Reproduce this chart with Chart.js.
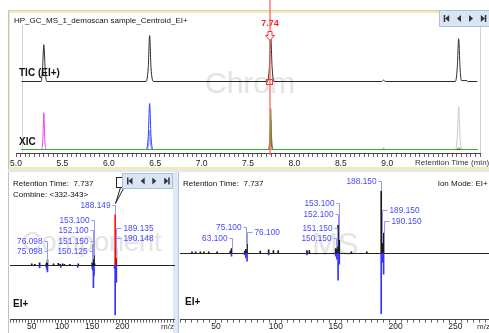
<!DOCTYPE html>
<html>
<head>
<meta charset="utf-8">
<script src="https://cdn.jsdelivr.net/npm/chart.js@4.4.1/dist/chart.umd.min.js"></script>
<style>
  html, body { margin: 0; padding: 0; background: #fff; }
  body { width: 489px; height: 333px; position: relative; overflow: hidden;
         font-family: "Liberation Sans", Arial, sans-serif; color: #111; }
  .abs { position: absolute; }
  .ui { position: absolute; font-size: 8px; line-height: 10px; white-space: pre; color: #111; }
  .bold { position: absolute; font-weight: bold; font-size: 10px; line-height: 12px; white-space: pre; color: #111; }
  .mark { position: absolute; color: #e4e4e4; white-space: nowrap; }
  canvas { position: absolute; }
  .nav { position: absolute; background: #d9e5f5; border: 1px solid #aebfd8; box-sizing: border-box; }
</style>
</head>
<body>
<!-- panel frames -->
<div class="abs" style="left:8px;top:10px;width:481px;height:160px;border-top:1px solid #c5d3e6;border-left:1px solid #b5c6dc;box-sizing:border-box"></div>
<div class="abs" style="left:9px;top:11px;width:480px;height:2px;background:#f8ed9f"></div>
<div class="abs" style="left:9px;top:11px;width:1px;height:158px;background:#f6eba6"></div>
<div class="abs" style="left:9px;top:167px;width:480px;height:2px;background:#f8ed9f"></div>
<div class="abs" style="left:8px;top:169px;width:481px;height:3px;background:#dfe8f4"></div>
<div class="abs" style="left:8px;top:172px;width:1px;height:161px;background:#b5c6dc"></div>
<div class="abs" style="left:173px;top:172px;width:5px;height:161px;background:#dfe8f4;border-right:1px solid #b5c6dc"></div>

<!-- watermarks -->
<div class="mark" style="left:205px;top:67.6px;font-size:30px;line-height:30px">Chrom</div>
<div class="mark" style="left:22px;top:229.4px;font-size:27px;line-height:27px">Component</div>
<div class="mark" style="left:312px;top:228.8px;font-size:31px;line-height:31px">MS</div>

<canvas id="chrom" width="489" height="170" style="left:0;top:0"></canvas>
<canvas id="specLeft" width="167" height="161" style="left:8px;top:172px"></canvas>
<canvas id="specRight" width="310" height="161" style="left:179px;top:172px"></canvas>

<!-- texts -->
<div class="ui" style="left:14px;top:15.7px">HP_GC_MS_1_demoscan sample_Centroid_EI+</div>
<div class="bold" style="left:19px;top:67.3px">TIC (EI+)</div>
<div class="bold" style="left:19px;top:135.7px">XIC</div>
<div class="ui" style="left:415px;top:158.3px;color:#333">Retention Time (min)</div>

<div class="ui" style="left:13px;top:179px">Retention Time:  7.737</div>
<div class="ui" style="left:13px;top:190px">Combine: &lt;332-343&gt;</div>
<div class="bold" style="left:13px;top:298px">EI+</div>
<div class="ui" style="left:161px;top:322px;color:#333">m/z</div>

<div class="ui" style="left:183px;top:178.7px">Retention Time:  7.737</div>
<div class="ui" style="left:437.7px;top:179px">Ion Mode: EI+</div>
<div class="bold" style="left:185px;top:296.3px">EI+</div>
<div class="ui" style="left:477px;top:322px;color:#333">m/z</div>

<script>
// ---------- chromatogram (retention time, min / intensity, % of largest peak) ----------
const rtTickLabels = ['5.0', '5.5', '6.0', '6.5', '7.0', '7.5', '8.0', '8.5', '9.0'];
const cursorTime = 7.74;
const scanStart = 5.06;
const scanEnd = 10.0;

const ticTime      = [5.06, 5.27, 5.285, 5.30, 5.315, 5.33, 6.40, 6.425, 6.44, 6.455, 6.48, 7.71, 7.73, 7.745, 7.76, 7.78, 8.94, 8.96, 8.98, 9.735, 9.755, 9.77, 9.785, 9.80, 9.86, 9.87, 9.97];
const ticIntensity = [0,    0,    25,    80,   25,    0,    0,    30,    100,  30,    0,    0,    30,   98,    30,   0,    0,    3,    0,    0,     30,    93,   30,    2,    2,    0,    0];

const xicGreenTime  = [5.06, 7.715, 7.735, 7.745, 7.755, 7.775, 9.745, 9.77, 9.795, 9.97];
const xicGreenInt   = [0,    0,     25,    89,    25,    0,     0,     4,    0,     0];
const xicBrownTime  = [5.06, 7.72, 7.737, 7.745, 7.753, 7.77, 9.97];
const xicBrownInt   = [0,    0,    18,    64,    18,    0,    0];
const xicOrangeTime = [5.06, 7.725, 7.739, 7.745, 7.751, 7.765, 8.94, 8.96, 8.98, 9.97];
const xicOrangeInt  = [0,    0,     10,    35,    10,    0,     0,    3,    0,    0];
const xicMagentaTime = [5.06, 5.275, 5.29, 5.30, 5.31, 5.325, 9.97];
const xicMagentaInt  = [0,    0,     22,   80,   22,   0,     0];
const xicBlueTime   = [5.06, 6.405, 6.425, 6.44, 6.455, 6.475, 9.97];
const xicBlueInt    = [0,    0,     28,    100,  28,    0,     0];
const xicVioletTime = [5.06, 6.415, 6.43, 6.44, 6.45, 6.465, 9.97];
const xicVioletInt  = [0,    0,     12,   41,   12,   0,     0];
const xicGrayTime   = [5.06, 9.735, 9.755, 9.77, 9.785, 9.805, 9.97];
const xicGrayInt    = [0,    0,     26,    93,   26,    0,     0];

// ---------- spectra (m/z / relative abundance, %) ----------
const mzTickLabelsLeft  = ['50', '100', '150', '200'];
const mzTickLabelsRight = ['50', '100', '150', '200', '250'];

// combined spectrum, left panel (sample above the axis, library below)
const combinedMz        = [50, 55, 63, 74, 75, 76, 86, 94, 97, 101, 104, 113, 127, 150, 151, 152, 153, 154, 188, 189, 190];
const combinedIntensity = [3,  2,  5,  3,  5,  11, 3,  4,  2,  3,   2,   2,   3,   5,   12,  41,  20,  3,   100, 14,  33];
const libraryMz         = [63, 74, 75, 76, 98, 126, 150, 151, 152, 153, 187, 188, 189, 190];
const libraryIntensity  = [5,  4,  8,  13, 4,  4,   6,   10,  44,  20,  6,   98,  16,  34];
const componentMz       = [188, 189, 190];
const combinedLabels    = ['75.098', '76.098', '150.125', '151.150', '152.100', '153.100', '188.149', '189.135', '190.148'];

// scan spectrum, right panel
const scanMz            = [30, 33, 37, 40, 44, 51, 62, 63, 74, 75, 76, 87, 94, 98, 102, 126, 128, 150, 151, 152, 153, 163, 176, 188, 189, 190];
const scanIntensity     = [2,  2,  2,  2,  2,  2,  3,  7,  3,  6,  15, 3,  5,  4,  4,   4,   4,   7,   10,  45,  21,  2,   2,   100, 16,  32];
const scanLibraryMz     = [63, 74, 75, 76, 94, 126, 150, 151, 152, 153, 188, 189, 190];
const scanLibraryInt    = [5,  3,  8,  13, 3,  3,   5,   10,  44,  18,  98,  15,  34];
const scanLabels        = ['63.100', '75.100', '76.100', '150.150', '151.150', '152.100', '153.100', '188.150', '189.150', '190.150'];

// label placement (px above the zero line, side of the peak)
const combinedLabelRow  = [14, 24.6, 14, 24.6, 35, 45.6, 60, 37.3, 27];
const combinedLabelSide = ['l', 'l', 'l', 'l', 'l', 'l', 'l', 'r', 'r'];
const scanLabelRow      = [14.7, 25.7, 20.7, 14.7, 25, 39, 50, 72.3, 42.7, 32.3];
const scanLabelSide     = ['l', 'l', 'r', 'l', 'l', 'l', 'l', 'l', 'r', 'r'];

const FONT = '"Liberation Sans", Arial, sans-serif';
Chart.defaults.font.family = FONT;

const pts = (xs, ys, sign = 1) => xs.map((v, i) => ({ x: v, y: sign * ys[i] }));

function xicSet(label, xs, ys, color) {
  return { label, data: pts(xs, ys), yAxisID: 'yXic', borderColor: color, borderWidth: 1,
           pointRadius: 0, cubicInterpolationMode: 'monotone' };
}

const chromDecor = {
  id: 'chromDecor',
  beforeDatasetsDraw(chart) {
    const { ctx, chartArea: a, scales: { x } } = chart;
    ctx.save();
    ctx.strokeStyle = '#d2d2d2';
    ctx.lineWidth = 1;
    [scanStart, scanEnd].forEach(t => {
      const px = Math.round(x.getPixelForValue(t)) + 0.5;
      ctx.beginPath(); ctx.moveTo(px, a.top - 3); ctx.lineTo(px, a.bottom); ctx.stroke();
    });
    ctx.restore();
  },
  afterDatasetsDraw(chart) {
    const { ctx, chartArea: a, scales: { x, yTic } } = chart;
    const cx = Math.round(x.getPixelForValue(cursorTime));
    ctx.save();
    ctx.strokeStyle = 'rgba(255, 100, 100, 0.65)';
    ctx.lineWidth = 2;
    ctx.beginPath(); ctx.moveTo(cx, 0); ctx.lineTo(cx, a.bottom + 2); ctx.stroke();

    ctx.lineWidth = 1;
    ctx.strokeStyle = '#ff3030';
    ctx.fillStyle = '#fff';
    ctx.beginPath();
    ctx.moveTo(cx - 2, 31.5); ctx.lineTo(cx + 2, 31.5); ctx.lineTo(cx + 2, 35.5);
    ctx.lineTo(cx + 4.5, 35.5); ctx.lineTo(cx, 40.5); ctx.lineTo(cx - 4.5, 35.5);
    ctx.lineTo(cx - 2, 35.5); ctx.closePath();
    ctx.fill(); ctx.stroke();

    const by = Math.round(yTic.getPixelForValue(0));
    ctx.strokeRect(cx - 3.5, by - 2.5, 6, 5);

    ctx.fillStyle = '#ff2424';
    ctx.font = 'bold 9px ' + FONT;
    ctx.textAlign = 'center';
    ctx.textBaseline = 'middle';
    ctx.fillText(cursorTime.toFixed(2), cx, 23.5);
    ctx.restore();
  }
};

new Chart(document.getElementById('chrom'), {
  type: 'line',
  data: {
    datasets: [
      xicSet('XIC green', xicGreenTime, xicGreenInt, '#2fae2f'),
      xicSet('XIC brown', xicBrownTime, xicBrownInt, '#8e3a1c'),
      xicSet('XIC orange', xicOrangeTime, xicOrangeInt, '#ff8c1a'),
      xicSet('XIC magenta', xicMagentaTime, xicMagentaInt, '#f03cf0'),
      xicSet('XIC blue', xicBlueTime, xicBlueInt, '#2f3cff'),
      xicSet('XIC violet', xicVioletTime, xicVioletInt, '#8a8aff'),
      xicSet('XIC gray', xicGrayTime, xicGrayInt, '#c8c8c8'),
      { label: 'TIC', data: pts(ticTime, ticIntensity), yAxisID: 'yTic', borderColor: '#2a2a2a',
        borderWidth: 1, pointRadius: 0, cubicInterpolationMode: 'monotone' }
    ]
  },
  options: {
    responsive: false,
    animation: false,
    events: [],
    layout: { padding: { left: 16, right: 9, top: 28, bottom: 0.5 } },
    plugins: { legend: { display: false }, tooltip: { enabled: false } },
    scales: {
      x: {
        type: 'linear', min: 5, max: 10,
        grid: { drawOnChartArea: false, tickLength: 4, color: '#666' },
        border: { color: '#444' },
        ticks: {
          stepSize: 0.05, autoSkip: false, maxRotation: 0, minRotation: 0, includeBounds: false,
          padding: 2, color: '#222', font: { size: 8.5, lineHeight: 1 },
          callback: v => {
            const s = v.toFixed(1);
            return (Math.abs(v * 2 - Math.round(v * 2)) < 1e-6 && rtTickLabels.includes(s)) ? s : '';
          }
        }
      },
      yTic: { display: false, min: -155.4, max: 116.3 },
      yXic: { display: false, min: -7.6, max: 264.1 }
    }
  },
  plugins: [chromDecor]
});

function spectrumDecor(id, labels, rows, sides, peakMz, peakInt, callout) {
  return {
    id,
    beforeDatasetsDraw(chart) {
      const { ctx, chartArea: a, scales: { y } } = chart;
      const y0 = Math.round(y.getPixelForValue(0)) + 0.5;
      ctx.save();
      ctx.strokeStyle = '#222';
      ctx.lineWidth = 1;
      ctx.beginPath(); ctx.moveTo(a.left, y0); ctx.lineTo(a.right, y0); ctx.stroke();
      ctx.restore();
    },
    afterDatasetsDraw(chart) {
      const { ctx, scales: { x, y } } = chart;
      const zero = y.getPixelForValue(0);
      ctx.save();
      ctx.font = '8.3px ' + FONT;
      ctx.textBaseline = 'middle';
      ctx.lineWidth = 1;
      labels.forEach((text, i) => {
        const mz = Math.round(parseFloat(text));
        const bx = Math.round(x.getPixelForValue(mz)) + 0.5;
        const top = y.getPixelForValue(peakInt[peakMz.indexOf(mz)]);
        const ty = Math.round(zero - rows[i]) + 0.5;
        ctx.fillStyle = '#4848ff';
        ctx.strokeStyle = '#9898f0';
        ctx.beginPath();
        if (sides[i] === 'l') {
          ctx.textAlign = 'right';
          ctx.fillText(text, bx - 5, ty);
          ctx.moveTo(bx - 3, ty);
        } else {
          ctx.textAlign = 'left';
          ctx.fillText(text, bx + 7, ty);
          ctx.moveTo(bx + 5, ty);
        }
        ctx.lineTo(bx, ty);
        if (top > ty) ctx.lineTo(bx, top);
        ctx.stroke();
        if (callout && mz === callout) {
          ctx.fillStyle = '#fff';
          ctx.strokeStyle = '#222';
          ctx.fillRect(bx + 1, ty - 28, 16, 10);
          ctx.strokeRect(bx + 1, ty - 28, 16, 10);
          ctx.beginPath();
          ctx.moveTo(bx + 5, ty - 18); ctx.lineTo(bx, ty - 2); ctx.lineTo(bx + 8.5, ty - 18);
          ctx.stroke();
        }
      });
      ctx.restore();
    }
  };
}

function spectrumChart(canvasId, opts) {
  const tickCb = v => {
    const s = String(Math.round(v));
    return (Math.abs(v - Math.round(v)) < 1e-6 && opts.tickLabels.includes(s)) ? s : '';
  };
  return new Chart(document.getElementById(canvasId), {
    type: 'bar',
    data: {
      datasets: [
        { label: 'sample', data: pts(opts.mz, opts.intensity), stack: 'spec', barThickness: 1,
          backgroundColor: opts.color },
        { label: 'library', data: pts(opts.libMz, opts.libInt, -1), stack: 'spec', barThickness: 1,
          backgroundColor: '#3434ff' }
      ]
    },
    options: {
      responsive: false,
      animation: false,
      events: [],
      layout: { padding: opts.padding },
      plugins: { legend: { display: false }, tooltip: { enabled: false } },
      scales: {
        x: {
          type: 'linear', min: opts.min, max: opts.max, offset: false,
          grid: { offset: false, drawOnChartArea: false, tickLength: 3, color: '#666' },
          border: { color: '#444' },
          ticks: {
            stepSize: 5, autoSkip: false, maxRotation: 0, minRotation: 0, includeBounds: false,
            padding: 0, color: '#222', font: { size: 8.5, lineHeight: 1 }, callback: tickCb
          }
        },
        y: { display: false, stacked: false, min: opts.yMin, max: opts.yMax }
      }
    },
    plugins: [spectrumDecor(canvasId + 'Decor', opts.labels, opts.rows, opts.sides,
                            opts.mz, opts.intensity, opts.callout)]
  });
}

spectrumChart('specLeft', {
  mz: combinedMz, intensity: combinedIntensity, libMz: libraryMz, libInt: libraryIntensity,
  color: c => {
    const k = componentMz.indexOf(c.raw.x);
    return k === 0 ? '#ff1414' : (k > 0 ? '#b01212' : '#1a1a1a');
  },
  labels: combinedLabels, rows: combinedLabelRow, sides: combinedLabelSide,
  tickLabels: mzTickLabelsLeft, min: 14, max: 287, yMin: -107.5, yMax: 119.2,
  padding: { left: 2, right: 0, top: 33, bottom: 1.8 }, callout: 188
});

spectrumChart('specRight', {
  mz: scanMz, intensity: scanIntensity, libMz: scanLibraryMz, libInt: scanLibraryInt,
  color: '#1a1a1a',
  labels: scanLabels, rows: scanLabelRow, sides: scanLabelSide,
  tickLabels: mzTickLabelsRight, min: 20, max: 278, yMin: -107.6, yMax: 108.1,
  padding: { left: 1, right: 0, top: 14, bottom: 1.8 }, callout: null
});

// navigation button strips
function navBox(left, top, width, height, centers) {
  const box = document.createElement('div');
  box.className = 'nav';
  Object.assign(box.style, { left: left + 'px', top: top + 'px', width: width + 'px', height: height + 'px' });
  const cy = (height - 2) / 2, s = 3.5;
  const [a, b, c, d] = centers;
  box.innerHTML =
    `<svg width="${width - 2}" height="${height - 2}" style="display:block" fill="#333">` +
    `<rect x="${a - 3}" y="${cy - s}" width="1.5" height="${2 * s}"/>` +
    `<polygon points="${a + 2.5},${cy - s} ${a + 2.5},${cy + s} ${a - 1.5},${cy}"/>` +
    `<polygon points="${b + 2},${cy - s} ${b + 2},${cy + s} ${b - 2},${cy}"/>` +
    `<polygon points="${c - 2},${cy - s} ${c - 2},${cy + s} ${c + 2},${cy}"/>` +
    `<polygon points="${d - 2.5},${cy - s} ${d - 2.5},${cy + s} ${d + 1.5},${cy}"/>` +
    `<rect x="${d + 1.5}" y="${cy - s}" width="1.5" height="${2 * s}"/></svg>`;
  document.body.appendChild(box);
}
navBox(439, 10, 52, 17, [6.7, 19, 31, 43.3]);
navBox(122, 173, 51, 16, [7, 19.7, 31.3, 43.7]);
</script>
</body>
</html>
